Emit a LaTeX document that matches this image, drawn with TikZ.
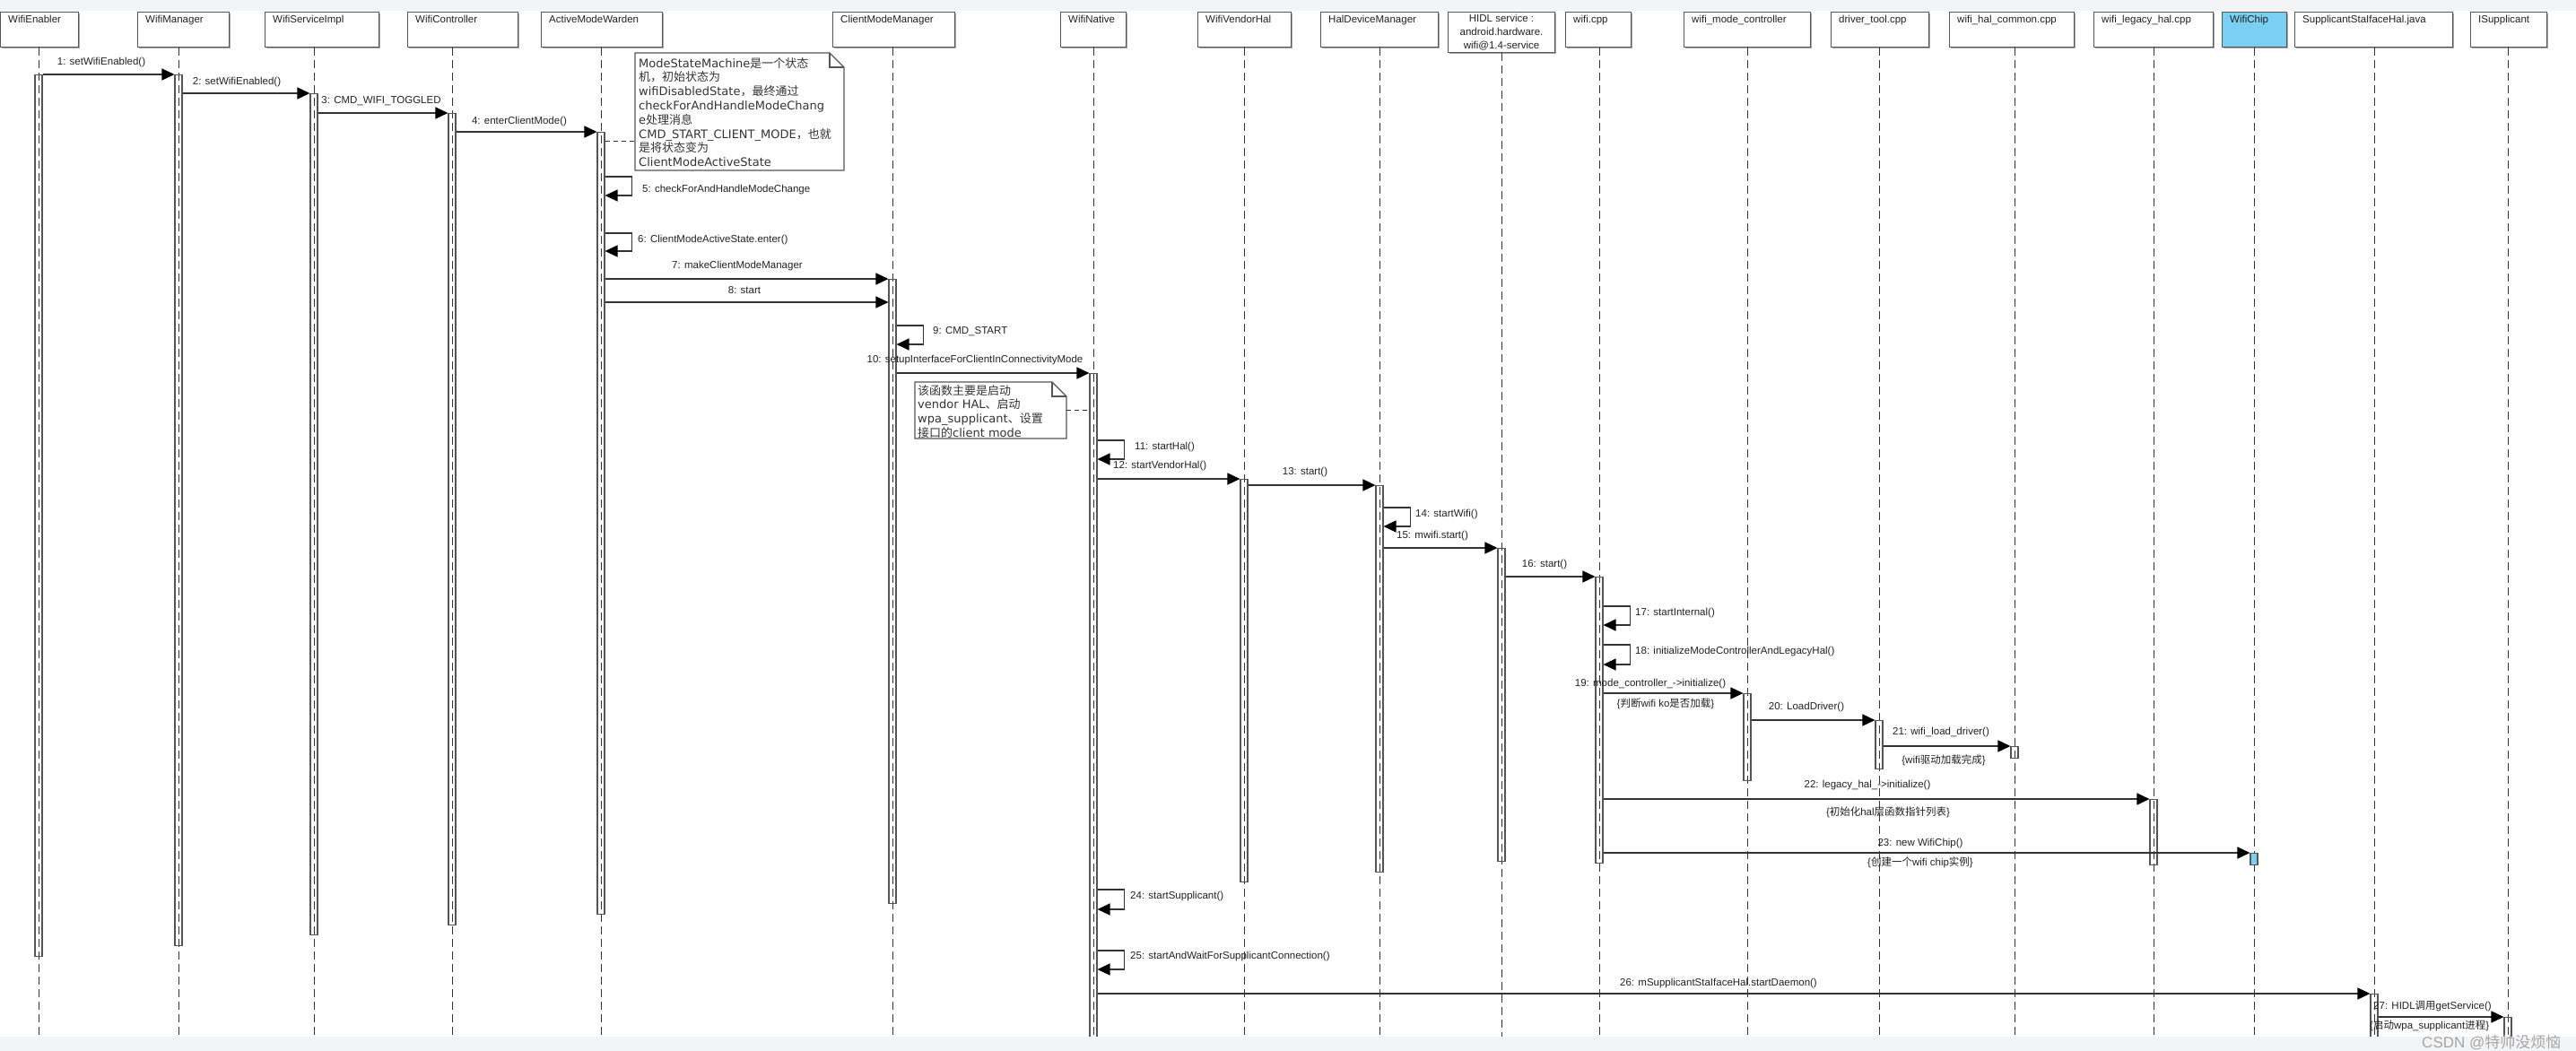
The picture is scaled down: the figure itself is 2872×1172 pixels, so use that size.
\documentclass[tikz,border=0pt]{standalone}
\usepackage{fontspec}
\setmainfont{Liberation Sans}
\newfontfamily\cjk{Noto Sans CJK SC}
\newfontfamily\notefont{DejaVu Sans}
\usetikzlibrary{arrows.meta,shadows}
\definecolor{stripc}{HTML}{F3F4F6}
\definecolor{linec}{HTML}{333333}
\definecolor{boxline}{HTML}{555555}
\definecolor{chipblue}{HTML}{7ACFF3}
\definecolor{txtc}{HTML}{222222}

\newcommand\seqobj[5]{%
  \node[hdrbox, anchor=north west, minimum width={#3-#2}] (#1) at (#2,13) {};
  \node[hdrtext, anchor=base west] (#1txt) at (#2+9,26) {#5};
  \draw[lifeline] (#1.south -| #4,0) -- (#4,1156);
}
\newcommand\actbarat[4]{\node[actbar, anchor=north, minimum height={#4-#3}] (#1) at (#2,#3) {};}
\newcommand\callmsg[3]{\draw[msg] (#1.east |- 0,#3) -- (#2.west |- 0,#3);}
\newcommand\selfmsg[3]{\draw[msg] (#1.east |- 0,#2) -- ++(30,0) -- ++(0,#3-#2) -- (#1.east |- 0,#3);}

\begin{document}
\begin{tikzpicture}[x=1pt,y=-1pt,
  hdrbox/.style={draw=boxline, line width=1.2pt, fill=white, inner sep=0pt, minimum height=39pt,
     drop shadow={shadow xshift=1.5pt, shadow yshift=-1.5pt, fill=gray!70, opacity=1}},
  hdrtext/.style={font=\fontsize{11.5}{15}\selectfont, inner sep=0pt, text=txtc},
  lifeline/.style={draw=linec, line width=0.9pt, dash pattern=on 9pt off 5pt},
  actbar/.style={draw=boxline, line width=1.1pt, inner sep=0pt, minimum width=8pt},
  msg/.style={draw=linec, line width=1.4pt, -{Triangle[length=14pt,width=13pt,fill=black,color=black]}},
  lbl/.style={font=\fontsize{11.5}{14}\selectfont, inner sep=0pt, text=txtc},
  notebox/.style={draw=boxline, line width=1.1pt, fill=white, line join=miter},
  notetext/.style={font=\notefont\fontsize{13}{15.8}\selectfont, inner sep=0pt, align=left, text=black!80, anchor=north west},
  notelink/.style={draw=linec, line width=1pt, dash pattern=on 5pt off 4pt}
]
\useasboundingbox (0,0) rectangle (2872,1172);
\fill[white] (0,0) rectangle (2872,1172);
\fill[stripc] (0,0) rectangle (2872,12);

% ---------- objects / lifelines ----------
\seqobj{en}{0}{87}{43}{WifiEnabler}
\seqobj{wm}{153}{255}{199}{WifiManager}
\seqobj{ws}{295}{422}{350}{WifiServiceImpl}
\seqobj{wc}{454}{577}{504}{WifiController}
\seqobj{am}{603}{738}{670}{ActiveModeWarden}
\seqobj{cm}{928}{1064}{995}{ClientModeManager}
\seqobj{wn}{1182}{1255}{1219}{WifiNative}
\seqobj{vh}{1335}{1439}{1387}{WifiVendorHal}
\seqobj{hd}{1472}{1603}{1538}{HalDeviceManager}
\node[hdrbox, anchor=north west, minimum width=119pt, minimum height=45pt] (hi) at (1614,13) {};
\node[hdrtext, align=center, anchor=north] (hitxt) at (1674,16) {HIDL service :\\android.hardware.\\wifi@1.4-service};
\draw[lifeline] (hi.south -| 1674,0) -- (1674,1156);
\seqobj{wf}{1745}{1818}{1783}{wifi.cpp}
\seqobj{mc}{1877}{2018}{1948}{wifi\_mode\_controller}
\seqobj{dt}{2041}{2150}{2095}{driver\_tool.cpp}
\seqobj{hc}{2173}{2312}{2246}{wifi\_hal\_common.cpp}
\seqobj{lh}{2334}{2467}{2401}{wifi\_legacy\_hal.cpp}
\node[hdrbox, fill=chipblue, anchor=north west, minimum width=72pt] (ch) at (2477,13) {};
\node[hdrtext, anchor=base west] (chtxt) at (2486,26) {WifiChip};
\draw[lifeline] (ch.south -| 2513,0) -- (2513,1156);
\seqobj{sh}{2558}{2734}{2647}{SupplicantStaIfaceHal.java}
\seqobj{is}{2754}{2839}{2796}{ISupplicant}

% ---------- activation bars ----------
\actbarat{ben}{43}{83}{1066}
\actbarat{bwm}{199}{83}{1054}
\actbarat{bws}{350}{104}{1042}
\actbarat{bwc}{504}{126}{1031}
\actbarat{bam}{670}{147}{1019}
\actbarat{bcm}{995}{311}{1007}
\actbarat{bwn}{1219}{416}{1172}
\actbarat{bvh}{1387}{534}{983}
\actbarat{bhd}{1538}{541}{972}
\actbarat{bhi}{1674}{611}{960}
\actbarat{bwf}{1783}{643}{962}
\actbarat{bmc}{1948}{773}{870}
\actbarat{bdt}{2095}{803}{857}
\actbarat{bhc}{2246}{832}{845}
\actbarat{blh}{2401}{891}{964}
\node[actbar, fill=chipblue, anchor=north, minimum height=13pt] (bch) at (2513,951) {};
\actbarat{bsh}{2647}{1108}{1172}
\actbarat{bis}{2796}{1134}{1172}

% ---------- messages ----------
\callmsg{ben}{bwm}{83}
\callmsg{bwm}{bws}{104}
\callmsg{bws}{bwc}{126}
\callmsg{bwc}{bam}{147}
\selfmsg{bam}{197}{218}
\selfmsg{bam}{260}{280}
\callmsg{bam}{bcm}{311}
\callmsg{bam}{bcm}{337}
\selfmsg{bcm}{363}{384}
\callmsg{bcm}{bwn}{416}
\selfmsg{bwn}{491}{512}
\callmsg{bwn}{bvh}{534}
\callmsg{bvh}{bhd}{541}
\selfmsg{bhd}{566}{587}
\callmsg{bhd}{bhi}{611}
\callmsg{bhi}{bwf}{643}
\selfmsg{bwf}{676}{697}
\selfmsg{bwf}{719}{741}
\callmsg{bwf}{bmc}{773}
\callmsg{bmc}{bdt}{803}
\callmsg{bdt}{bhc}{832}
\callmsg{bwf}{blh}{891}
\callmsg{bwf}{bch}{951}
\selfmsg{bwn}{992}{1014}
\selfmsg{bwn}{1060}{1081}
\callmsg{bwn}{bsh}{1108}
\callmsg{bsh}{bis}{1134}

% ---------- labels ----------
\node[lbl] (l1) at (113,70) {1: setWifiEnabled()};
\node[lbl] (l2) at (264,92) {2: setWifiEnabled()};
\node[lbl] (l3) at (425,113) {3: CMD\_WIFI\_TOGGLED};
\node[lbl] (l4) at (579,136) {4: enterClientMode()};
\node[lbl, anchor=west] (l5) at (716,212) {5: checkForAndHandleModeChange};
\node[lbl, anchor=west] (l6) at (711,268) {6: ClientModeActiveState.enter()};
\node[lbl] (l7) at (822,297) {7: makeClientModeManager};
\node[lbl] (l8) at (830,324) {8: start};
\node[lbl, anchor=west] (l9) at (1040,370) {9: CMD\_START};
\node[lbl] (l10) at (1087,402) {10: setupInterfaceForClientInConnectivityMode};
\node[lbl, anchor=west] (l11) at (1265,499) {11: startHal()};
\node[lbl, anchor=west] (l12) at (1241,520) {12: startVendorHal()};
\node[lbl] (l13) at (1455,527) {13: start()};
\node[lbl, anchor=west] (l14) at (1578,574) {14: startWifi()};
\node[lbl] (l15) at (1597,598) {15: mwifi.start()};
\node[lbl] (l16) at (1722,630) {16: start()};
\node[lbl, anchor=west] (l17) at (1823,684) {17: startInternal()};
\node[lbl, anchor=west] (l18) at (1823,727) {18: initializeModeControllerAndLegacyHal()};
\node[lbl] (l19) at (1840,763) {19: mode\_controller\_->initialize()};
\node[lbl] (n19) at (1857,785) {\{{\cjk 判断}wifi ko{\cjk 是否加载}\}};
\node[lbl] (l20) at (2014,789) {20: LoadDriver()};
\node[lbl] (l21) at (2164,817) {21: wifi\_load\_driver()};
\node[lbl] (n21) at (2167,848) {\{wifi{\cjk 驱动加载完成}\}};
\node[lbl] (l22) at (2082,876) {22: legacy\_hal\_->initialize()};
\node[lbl] (n22) at (2105,906) {\{{\cjk 初始化}hal{\cjk 层函数指针列表}\}};
\node[lbl] (l23) at (2141,941) {23: new WifiChip()};
\node[lbl] (n23) at (2141,962) {\{{\cjk 创建一个}wifi chip{\cjk 实例}\}};
\node[lbl, anchor=west] (l24) at (1260,1000) {24: startSupplicant()};
\node[lbl, anchor=west] (l25) at (1260,1067) {25: startAndWaitForSupplicantConnection()};
\node[lbl] (l26) at (1916,1097) {26: mSupplicantStaIfaceHal.startDaemon()};
\node[lbl, anchor=west] (l27) at (2646,1122) {27: HIDL{\cjk 调用}getService()};
\node[lbl, anchor=west] (n27) at (2642,1144) {\{{\cjk 启动}wpa\_supplicant{\cjk 进程}\}};

% ---------- notes ----------
\draw[notebox] (708,59) -- (925,59) -- (941,75) -- (941,190) -- (708,190) -- cycle;
\draw[boxline, line width=1.1pt] (925,59) -- (925,75) -- (941,75);
\node[notetext] (note1) at (712,64) {ModeStateMachine{\cjk 是一个状态}\\{\cjk 机，初始状态为}\\wifiDisabledState{\cjk ，最终通过}\\checkForAndHandleModeChang\\e{\cjk 处理消息}\\CMD\_START\_CLIENT\_MODE{\cjk ，也就}\\{\cjk 是将状态变为}\\ClientModeActiveState};
\coordinate (note1link) at (708,157);
\draw[notelink] (bam.east |- note1link) -- (note1link);

\draw[notebox] (1020,426) -- (1173,426) -- (1189,442) -- (1189,489) -- (1020,489) -- cycle;
\draw[boxline, line width=1.1pt] (1173,426) -- (1173,442) -- (1189,442);
\node[notetext] (note2) at (1023,429) {{\cjk 该函数主要是启动}\\vendor HAL{\cjk 、启动}\\wpa\_supplicant{\cjk 、设置}\\{\cjk 接口的}client mode};
\coordinate (note2link) at (1189,457);
\draw[notelink] (note2link) -- (bwn.west |- note2link);

% ---------- bottom strip ----------
\fill[stripc] (0,1156) rectangle (2872,1172);
\node[font=\fontsize{17}{18}\selectfont, text=gray!70, anchor=west, inner sep=0pt] (csdn) at (2700,1163) {CSDN @{\cjk 特帅没烦恼}};
\end{tikzpicture}
\end{document}
